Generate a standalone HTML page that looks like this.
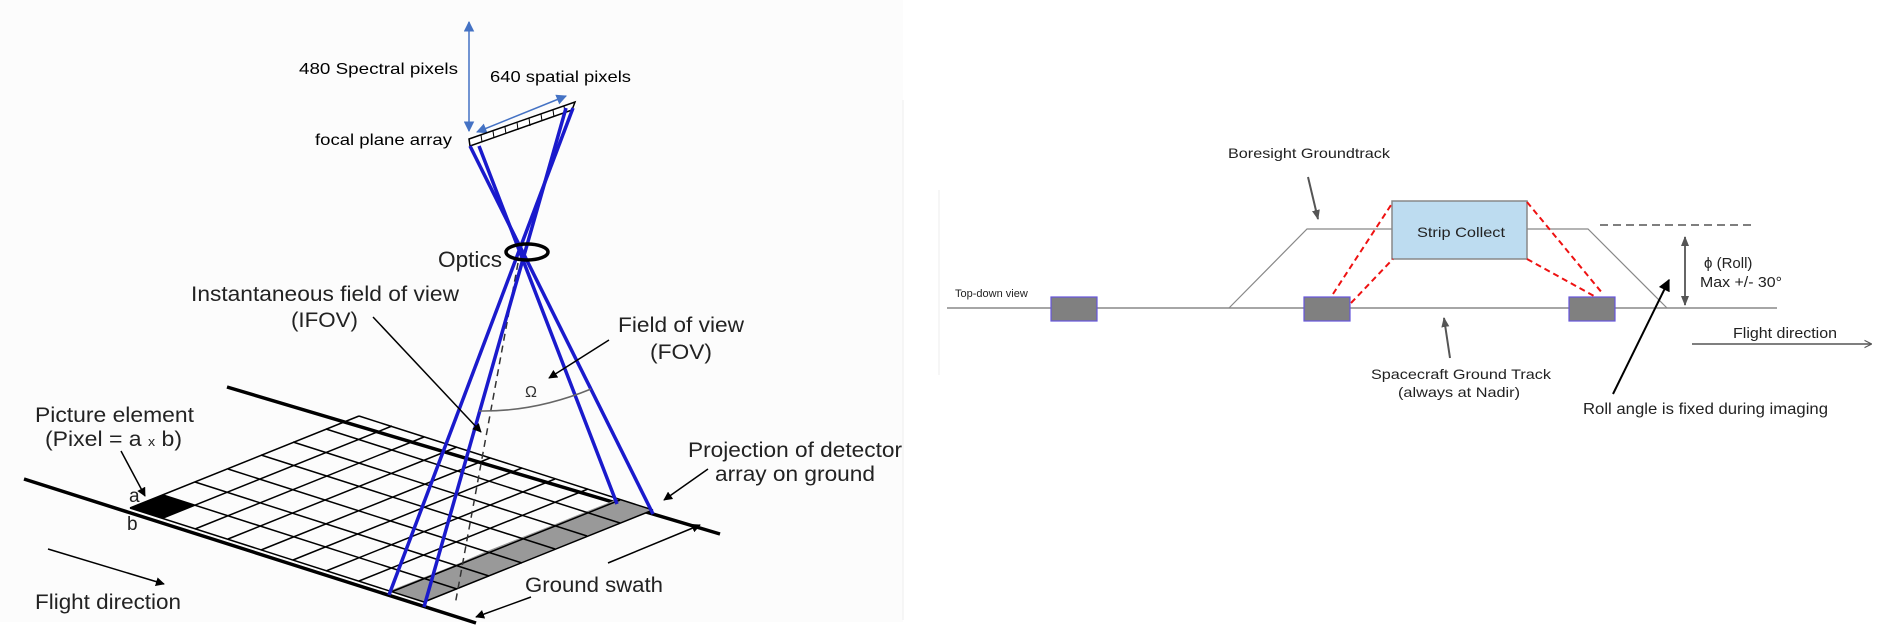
<!DOCTYPE html>
<html><head><meta charset="utf-8"><style>
html,body{margin:0;padding:0;background:#fff;}
svg{display:block;}
text{font-family:"Liberation Sans",sans-serif;}
</style></head><body>
<svg width="1892" height="639" viewBox="0 0 1892 639" xmlns="http://www.w3.org/2000/svg">
<defs>
<marker id="bl" viewBox="0 0 10 10" refX="9" refY="5" markerWidth="7" markerHeight="7" orient="auto-start-reverse"><path d="M0,0 L10,5 L0,10 z" fill="#4472c4"/></marker>
<marker id="bk" viewBox="0 0 10 10" refX="9" refY="5" markerWidth="6" markerHeight="6" orient="auto-start-reverse"><path d="M0,0 L10,5 L0,10 z" fill="#000"/></marker>
<marker id="gr" viewBox="0 0 10 10" refX="9" refY="5" markerWidth="5" markerHeight="6" orient="auto-start-reverse"><path d="M0,1 L10,5 L0,9 z" fill="#555"/></marker>
<marker id="gro" viewBox="0 0 10 10" refX="9" refY="5" markerWidth="5" markerHeight="6" orient="auto"><path d="M0,0 L10,5 L0,10" fill="none" stroke="#555" stroke-width="1.5"/></marker>
</defs>
<rect x="0" y="0" width="903" height="622" fill="#fcfcfc"/>
<line x1="903" y1="100" x2="903" y2="620" stroke="#eee"/>
<line x1="939" y1="190" x2="939" y2="375" stroke="#eee"/>

<!-- LEFT DIAGRAM -->
<line x1="469" y1="22" x2="469" y2="131" stroke="#4472c4" stroke-width="1.5" marker-start="url(#bl)" marker-end="url(#bl)"/>
<line x1="477" y1="132" x2="566" y2="96" stroke="#4472c4" stroke-width="1.5" marker-start="url(#bl)" marker-end="url(#bl)"/>
<text x="299" y="74" font-size="16" textLength="159" lengthAdjust="spacingAndGlyphs">480  Spectral pixels</text>
<text x="490" y="82" font-size="16" textLength="141" lengthAdjust="spacingAndGlyphs">640 spatial pixels</text>
<text x="315" y="145" font-size="16" textLength="137" lengthAdjust="spacingAndGlyphs">focal plane array</text>
<!-- FPA -->
<polygon points="469,139 575,102 572,110 470,146" fill="#fff" stroke="#000" stroke-width="1.5"/>
<g stroke="#000" stroke-width="1">
<line x1="481" y1="135" x2="482" y2="142"/><line x1="493" y1="131" x2="494" y2="138"/><line x1="505" y1="127" x2="506" y2="134"/><line x1="517" y1="122" x2="518" y2="130"/><line x1="529" y1="118" x2="530" y2="126"/><line x1="541" y1="114" x2="542" y2="121"/><line x1="553" y1="110" x2="554" y2="117"/><line x1="564" y1="106" x2="565" y2="113"/>
</g>
<!-- ground -->
<line x1="24" y1="479" x2="476" y2="623" stroke="#000" stroke-width="3.5"/>
<line x1="227" y1="387" x2="720" y2="534" stroke="#000" stroke-width="3.5"/>
<!-- grid 9 x 7 : F0(130,508) F1(424,602) B1(653,510) B0(359,416) -->
<g id="grid">
<polygon points="389,591 424,602 457,589 422,578" fill="#999"/>
<polygon points="422,578 457,589 490,576 455,565" fill="#999"/>
<polygon points="455,565 490,576 522,563 487,551" fill="#999"/>
<polygon points="487,551 522,563 555,549 520,538" fill="#999"/>
<polygon points="520,538 555,549 588,536 553,525" fill="#999"/>
<polygon points="553,525 588,536 620,523 585,512" fill="#999"/>
<polygon points="585,512 620,523 653,510 618,499" fill="#999"/>
<polygon points="130,508 163,518 196,505 163,495" fill="#000"/>
<g stroke="#000" stroke-width="1.5" fill="none">
<line x1="130" y1="508" x2="359" y2="416"/><line x1="163" y1="518" x2="392" y2="426"/><line x1="195" y1="529" x2="424" y2="437"/><line x1="228" y1="539" x2="457" y2="447"/><line x1="261" y1="550" x2="490" y2="458"/><line x1="293" y1="560" x2="522" y2="468"/><line x1="326" y1="571" x2="555" y2="479"/><line x1="359" y1="581" x2="588" y2="489"/><line x1="391" y1="592" x2="620" y2="500"/><line x1="424" y1="602" x2="653" y2="510"/>
<line x1="130" y1="508" x2="424" y2="602"/><line x1="163" y1="495" x2="457" y2="589"/><line x1="195" y1="482" x2="489" y2="576"/><line x1="228" y1="469" x2="522" y2="563"/><line x1="261" y1="455" x2="555" y2="549"/><line x1="293" y1="442" x2="587" y2="536"/><line x1="326" y1="429" x2="620" y2="523"/><line x1="359" y1="416" x2="653" y2="510"/>
</g>
</g>
<!-- dashed nadir -->
<line x1="518" y1="263" x2="455" y2="605" stroke="#333" stroke-width="1.5" stroke-dasharray="7,5"/>
<!-- blue rays -->
<g stroke="#1a1acc" stroke-width="3.5">
<line x1="470" y1="146" x2="653" y2="514"/>
<line x1="479" y1="146" x2="617" y2="504"/>
<line x1="573" y1="108" x2="389" y2="595"/>
<line x1="566" y1="108" x2="424" y2="607"/>
</g>
<ellipse cx="527" cy="252" rx="21" ry="8" fill="none" stroke="#000" stroke-width="3.5"/>
<text x="438" y="267" font-size="22" textLength="64" lengthAdjust="spacingAndGlyphs" fill="#222">Optics</text>
<text x="191" y="301" font-size="21" textLength="268" lengthAdjust="spacingAndGlyphs" fill="#222">Instantaneous field of view</text>
<text x="291" y="327" font-size="21" textLength="67" lengthAdjust="spacingAndGlyphs" fill="#222">(IFOV)</text>
<text x="618" y="332" font-size="21" textLength="126" lengthAdjust="spacingAndGlyphs" fill="#222">Field of view</text>
<text x="650" y="359" font-size="21" textLength="62" lengthAdjust="spacingAndGlyphs" fill="#222">(FOV)</text>
<text x="525" y="397" font-size="16" fill="#333">Ω</text>
<path d="M479,411 Q535,412 591,389" fill="none" stroke="#666" stroke-width="1.5"/>
<line x1="609" y1="340" x2="549" y2="378" stroke="#000" stroke-width="1.5" marker-end="url(#bk)"/>
<line x1="373" y1="317" x2="481" y2="432" stroke="#000" stroke-width="1.5" marker-end="url(#bk)"/>
<text x="35" y="422" font-size="21" textLength="159" lengthAdjust="spacingAndGlyphs" fill="#222">Picture element</text>
<text x="45" y="446" font-size="21" textLength="137" lengthAdjust="spacingAndGlyphs" fill="#222">(Pixel = a <tspan font-size="13">x</tspan> b)</text>
<line x1="121" y1="451" x2="145" y2="496" stroke="#000" stroke-width="1.5" marker-end="url(#bk)"/>
<text x="129" y="502" font-size="19" fill="#222">a</text>
<text x="127" y="530" font-size="19" fill="#222">b</text>
<line x1="48" y1="549" x2="164" y2="584" stroke="#000" stroke-width="1.5" marker-end="url(#bk)"/>
<text x="35" y="609" font-size="21" textLength="146" lengthAdjust="spacingAndGlyphs" fill="#222">Flight direction</text>
<text x="525" y="592" font-size="21" textLength="138" lengthAdjust="spacingAndGlyphs" fill="#222">Ground swath</text>
<line x1="608" y1="563" x2="700" y2="525" stroke="#000" stroke-width="1.5" marker-end="url(#bk)"/>
<line x1="531" y1="597" x2="476" y2="617" stroke="#000" stroke-width="1.5" marker-end="url(#bk)"/>
<text x="688" y="457" font-size="21" textLength="214" lengthAdjust="spacingAndGlyphs" fill="#222">Projection of detector</text>
<text x="715" y="481" font-size="21" textLength="160" lengthAdjust="spacingAndGlyphs" fill="#222">array on ground</text>
<line x1="708" y1="469" x2="664" y2="500" stroke="#000" stroke-width="1.5" marker-end="url(#bk)"/>

<!-- RIGHT DIAGRAM -->
<line x1="947" y1="308" x2="1777" y2="308" stroke="#888" stroke-width="1.5"/>
<text x="955" y="297" font-size="11" fill="#222">Top-down view</text>
<polyline points="1229,308 1307,229 1392,229" fill="none" stroke="#888" stroke-width="1.2"/>
<polyline points="1527,229 1588,229 1667,308" fill="none" stroke="#888" stroke-width="1.2"/>
<rect x="1392" y="201" width="135" height="58" fill="#bddcf0" stroke="#888" stroke-width="1.5"/>
<text x="1417" y="237" font-size="14" textLength="88" lengthAdjust="spacingAndGlyphs" fill="#222">Strip Collect</text>
<g fill="#808080" stroke="#6655dd" stroke-width="1.2">
<rect x="1051" y="297" width="46" height="24"/>
<rect x="1304" y="297" width="46" height="24"/>
<rect x="1569" y="297" width="46" height="24"/>
</g>
<g stroke="#ee1111" stroke-width="2" stroke-dasharray="6,4" fill="none">
<line x1="1333" y1="294" x2="1393" y2="202"/>
<line x1="1351" y1="303" x2="1393" y2="259"/>
<line x1="1527" y1="202" x2="1603" y2="294"/>
<line x1="1527" y1="259" x2="1594" y2="296"/>
</g>
<line x1="1600" y1="225" x2="1752" y2="225" stroke="#555" stroke-width="1.5" stroke-dasharray="8,5"/>
<line x1="1685" y1="237" x2="1685" y2="305" stroke="#666" stroke-width="2" marker-start="url(#gr)" marker-end="url(#gr)"/>
<text x="1704" y="268" font-size="15" fill="#222">ϕ (Roll)</text>
<text x="1700" y="287" font-size="15" textLength="82" lengthAdjust="spacingAndGlyphs" fill="#222">Max +/- 30°</text>
<text x="1228" y="158" font-size="14" textLength="162" lengthAdjust="spacingAndGlyphs" fill="#222">Boresight Groundtrack</text>
<line x1="1308" y1="177" x2="1318" y2="219" stroke="#555" stroke-width="2" marker-end="url(#gr)"/>
<line x1="1450" y1="358" x2="1444" y2="318" stroke="#555" stroke-width="2" marker-end="url(#gr)"/>
<text x="1371" y="379" font-size="14" textLength="180" lengthAdjust="spacingAndGlyphs" fill="#222">Spacecraft Ground Track</text>
<text x="1398" y="397" font-size="14" textLength="122" lengthAdjust="spacingAndGlyphs" fill="#222">(always at Nadir)</text>
<text x="1733" y="338" font-size="15" textLength="104" lengthAdjust="spacingAndGlyphs" fill="#222">Flight direction</text>
<line x1="1692" y1="344" x2="1871" y2="344" stroke="#555" stroke-width="1.5" marker-end="url(#gro)"/>
<line x1="1613" y1="394" x2="1669" y2="280" stroke="#000" stroke-width="2" marker-end="url(#bk)"/>
<text x="1583" y="414" font-size="16" textLength="245" lengthAdjust="spacingAndGlyphs" fill="#222">Roll angle is fixed during imaging</text>
</svg>
</body></html>
